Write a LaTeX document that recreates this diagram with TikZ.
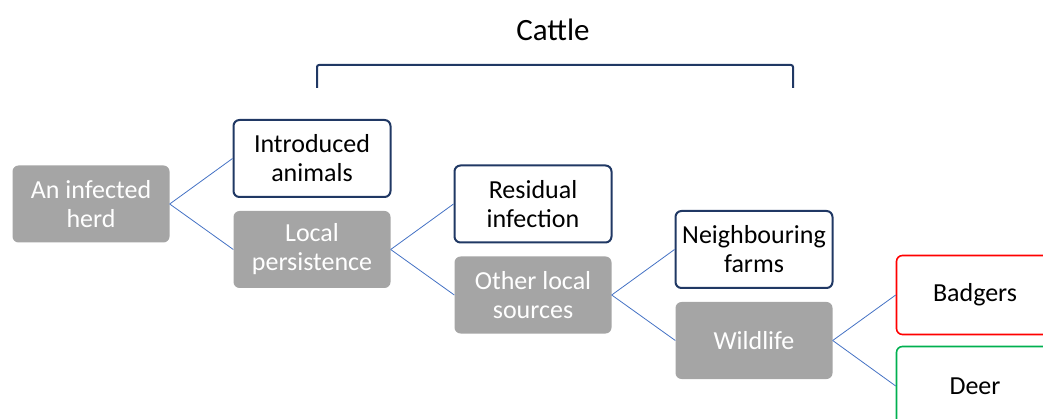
\documentclass[tikz,border=0pt]{standalone}
\usepackage{fontspec}
\setmainfont{Carlito}
\usepackage{tikz}
\usepackage{xcolor}
\definecolor{grisbox}{HTML}{A5A5A5}
\definecolor{marine}{HTML}{203864}
\definecolor{trait}{HTML}{4472C4}
\definecolor{rougevif}{HTML}{FF0000}
\definecolor{vertvif}{HTML}{00B050}
\tikzset{
  boite/.style = {align=center, inner sep=0pt, text centered,
    font=\fontsize{26}{29}\selectfont, minimum width=157pt,
    minimum height=77pt, rounded corners=6pt},
  gris/.style = {boite, fill=grisbox, text=white},% noeud gris, texte blanc
  bleu/.style = {boite, fill=white, draw=marine, line width=2pt},% noeud encadre bleu
  rouge/.style = {boite, fill=white, draw=rougevif, line width=1.6pt,
    minimum height=79pt},% blaireaux
  vert/.style = {boite, fill=white, draw=vertvif, line width=1.6pt,
    minimum height=79pt}% cerfs
}

\begin{document}
\begin{tikzpicture}[grow'=right, level distance=221pt, sibling distance=91pt,
  edge from parent/.style={draw=trait, line width=0.8pt},
  edge from parent path={(\tikzparentnode.east) -- (\tikzchildnode.west)}]
\useasboundingbox (0,0) rectangle (1043pt,-419pt);
\clip (0,0) rectangle (1043pt,-419pt);
\node [gris] (herd) at (91pt,-204pt) {An infected\\herd}
    child{ node [bleu] (introduced) {Introduced\\animals} }
    child{ node [gris] (local) {Local\\persistence}
            child{ node [bleu] (residual) {Residual\\infection} }
            child{ node [gris] (other) {Other local\\sources}
                child{ node [bleu] (farms) {Neighbouring\\farms} }
                child{ node [gris] (wildlife) {Wildlife}
                    child{ node [rouge] (badgers) {Badgers} }
                    child{ node [vert] (deer) {Deer} }
                }
            }
    }
;
% accolade bovins
\coordinate (cl) at (317pt,-88pt);
\coordinate (cr) at (793pt,-88pt);
\draw [marine, line width=2pt, rounded corners=2pt]
  (cl) -- ([yshift=23pt]cl) -- ([yshift=23pt]cr) -- (cr);
\node [font=\fontsize{31}{37}\selectfont] (cattle) at (553pt,-30pt) {Cattle};
\end{tikzpicture}
\end{document}
